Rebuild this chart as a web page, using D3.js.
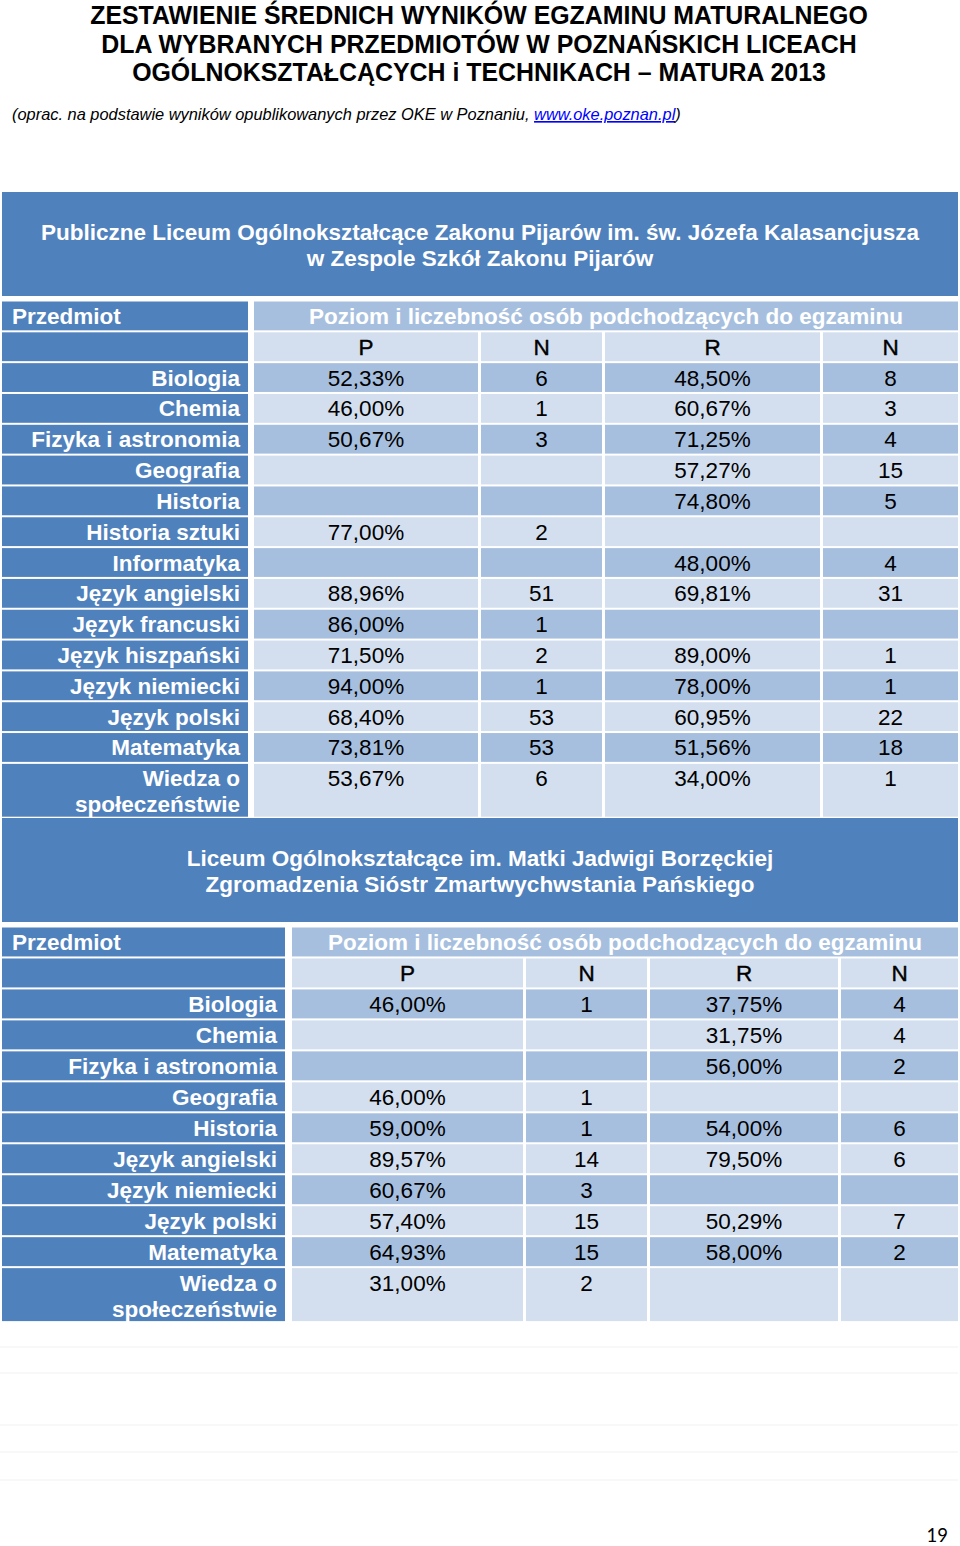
<!DOCTYPE html>
<html>
<head>
<meta charset="utf-8">
<script src="https://cdn.jsdelivr.net/npm/d3@7"></script>
<style>
  body { margin: 0; background: #fff; }
  svg { display: block; }
</style>
</head>
<body>
<div id="page"></div>
<script>
const titleLines = [
	"ZESTAWIENIE ŚREDNICH WYNIKÓW EGZAMINU MATURALNEGO",
	"DLA WYBRANYCH PRZEDMIOTÓW W POZNAŃSKICH LICEACH",
	"OGÓLNOKSZTAŁCĄCYCH i TECHNIKACH – MATURA 2013"
];
const sourceText = "(oprac. na podstawie wyników opublikowanych przez OKE w Poznaniu, ";
const sourceLink = "www.oke.poznan.pl";
const columnHeaders = ["P", "N", "R", "N"];
const groupHeader = "Poziom i liczebność osób podchodzących do egzaminu";
const firstColumnHeader = "Przedmiot";

const school1Name = ["Publiczne Liceum Ogólnokształcące Zakonu Pijarów im. św. Józefa Kalasancjusza", "w Zespole Szkół Zakonu Pijarów"];
const school1Subjects = ["Biologia", "Chemia", "Fizyka i astronomia", "Geografia", "Historia", "Historia sztuki", "Informatyka",
	"Język angielski", "Język francuski", "Język hiszpański", "Język niemiecki", "Język polski", "Matematyka", "Wiedza o|społeczeństwie"];
const school1BasicScore = ["52,33%", "46,00%", "50,67%", "", "", "77,00%", "", "88,96%", "86,00%", "71,50%", "94,00%", "68,40%", "73,81%", "53,67%"];
const school1BasicCount = ["6", "1", "3", "", "", "2", "", "51", "1", "2", "1", "53", "53", "6"];
const school1ExtScore = ["48,50%", "60,67%", "71,25%", "57,27%", "74,80%", "", "48,00%", "69,81%", "", "89,00%", "78,00%", "60,95%", "51,56%", "34,00%"];
const school1ExtCount = ["8", "3", "4", "15", "5", "", "4", "31", "", "1", "1", "22", "18", "1"];

const school2Name = ["Liceum Ogólnokształcące im. Matki Jadwigi Borzęckiej", "Zgromadzenia Sióstr Zmartwychwstania Pańskiego"];
const school2Subjects = ["Biologia", "Chemia", "Fizyka i astronomia", "Geografia", "Historia", "Język angielski", "Język niemiecki",
	"Język polski", "Matematyka", "Wiedza o|społeczeństwie"];
const school2BasicScore = ["46,00%", "", "", "46,00%", "59,00%", "89,57%", "60,67%", "57,40%", "64,93%", "31,00%"];
const school2BasicCount = ["1", "", "", "1", "1", "14", "3", "15", "15", "2"];
const school2ExtScore = ["37,75%", "31,75%", "56,00%", "", "54,00%", "79,50%", "", "50,29%", "58,00%", ""];
const school2ExtCount = ["4", "4", "2", "", "6", "6", "", "7", "2", ""];

const pageNumber = "19";

// Layout and style
const W = 960, H = 1546;
const blue = "#4f81bd", mid = "#a7bfde", light = "#d3dfee";
const font = "'Liberation Sans', Arial, sans-serif";
const cellSize = 22.5;

const svg = d3.select("#page").append("svg")
	.attr("width", W)
	.attr("height", H)
	.style("font-family", font);

// Title block
svg.append("g").selectAll("text")
	.data(titleLines)
	.enter().append("text")
	.attr("x", 479)
	.attr("y", (d, i) => 24 + i * 28.7)
	.attr("text-anchor", "middle")
	.style("font-size", "24.9px")
	.style("font-weight", "bold")
	.text(d => d);

let src = svg.append("text")
	.attr("x", 12)
	.attr("y", 120)
	.style("font-size", "16.4px")
	.style("font-style", "italic");
src.append("tspan").text(sourceText);
src.append("tspan").attr("fill", "#0000ff").attr("text-decoration", "underline").text(sourceLink);
src.append("tspan").text(")");

// Draws one school table: band with name, header rows, then subject rows
function drawTable(opts) {
	let g = svg.append("g");
	let rowKeys = ["head", "sub"].concat(opts.subjects);

	let y = d3.scaleBand()
		.domain(rowKeys)
		.range([opts.top, opts.top + rowKeys.length * opts.pitch])
		.paddingInner(0.065);

	// column edges: [label, P, N, R, N]
	let cols = opts.cols;
	let x = d3.scaleOrdinal().domain(d3.range(cols.length)).range(cols);

	// name band
	g.append("rect")
		.attr("x", 2).attr("y", opts.bandTop)
		.attr("width", 956).attr("height", opts.bandBottom - opts.bandTop)
		.attr("fill", blue);
	g.append("g").selectAll("text")
		.data(opts.name)
		.enter().append("text")
		.attr("x", 480)
		.attr("y", (d, i) => (opts.bandTop + opts.bandBottom) / 2 - 4 + i * 26)
		.attr("text-anchor", "middle")
		.attr("fill", "#fff")
		.style("font-size", cellSize + "px")
		.style("font-weight", "bold")
		.text(d => d);

	let rowHeight = key => y.bandwidth() + (key.indexOf("|") >= 0 ? 24 : 0);

	// label column
	g.append("g").selectAll("rect")
		.data(rowKeys)
		.enter().append("rect")
		.attr("x", d => x(0)[0])
		.attr("y", d => y(d))
		.attr("width", d => x(0)[1] - x(0)[0])
		.attr("height", rowHeight)
		.attr("fill", blue);

	g.append("text")
		.attr("x", 12)
		.attr("y", y("head") + y.bandwidth() / 2 + 8)
		.attr("fill", "#fff")
		.style("font-size", cellSize + "px")
		.style("font-weight", "bold")
		.text(firstColumnHeader);

	g.append("g").selectAll("text")
		.data(opts.subjects)
		.enter().append("text")
		.attr("x", x(0)[1] - 8)
		.attr("y", d => y(d) + y.bandwidth() / 2 + 8)
		.attr("text-anchor", "end")
		.attr("fill", "#fff")
		.style("font-size", cellSize + "px")
		.style("font-weight", "bold")
		.selectAll("tspan")
		.data(d => d.split("|"))
		.enter().append("tspan")
		.attr("x", x(0)[1] - 8)
		.attr("dy", (d, i) => i == 0 ? 0 : 26)
		.text(d => d);

	// group header spanning all data columns
	g.append("rect")
		.attr("x", x(1)[0]).attr("y", y("head"))
		.attr("width", x(4)[1] - x(1)[0]).attr("height", y.bandwidth())
		.attr("fill", mid);
	g.append("text")
		.attr("x", (x(1)[0] + x(4)[1]) / 2)
		.attr("y", y("head") + y.bandwidth() / 2 + 8)
		.attr("text-anchor", "middle")
		.attr("fill", "#fff")
		.style("font-size", cellSize + "px")
		.style("font-weight", "bold")
		.text(groupHeader);

	// data cells, one entry per row and column
	let series = [opts.basicScore, opts.basicCount, opts.extScore, opts.extCount];
	let cells = [];
	columnHeaders.forEach((h, c) => cells.push({ key: "sub", col: c + 1, text: h, fill: light, head: true }));
	opts.subjects.forEach((s, r) => {
		series.forEach((vals, c) => {
			cells.push({ key: s, col: c + 1, text: vals[r], fill: r % 2 == 0 ? mid : light });
		});
	});

	g.append("g").selectAll("rect")
		.data(cells)
		.enter().append("rect")
		.attr("x", d => x(d.col)[0])
		.attr("y", d => y(d.key))
		.attr("width", d => x(d.col)[1] - x(d.col)[0])
		.attr("height", d => rowHeight(d.key))
		.attr("fill", d => d.fill);

	g.append("g").selectAll("text")
		.data(cells.filter(d => d.text))
		.enter().append("text")
		.attr("x", d => (x(d.col)[0] + x(d.col)[1]) / 2)
		.attr("y", d => y(d.key) + y.bandwidth() / 2 + 8)
		.attr("text-anchor", "middle")
		.attr("fill", "#000")
		.style("font-size", cellSize + "px")
		.style("stroke", d => d.head ? "#000" : null)
		.style("stroke-width", d => d.head ? 0.4 : null)
		.text(d => d.text);
}

drawTable({
	name: school1Name, subjects: school1Subjects,
	basicScore: school1BasicScore, basicCount: school1BasicCount,
	extScore: school1ExtScore, extCount: school1ExtCount,
	bandTop: 192, bandBottom: 296, top: 301.5, pitch: 30.7,
	cols: [[2, 248], [254, 478], [481, 602], [605, 820], [823, 958]]
});

drawTable({
	name: school2Name, subjects: school2Subjects,
	basicScore: school2BasicScore, basicCount: school2BasicCount,
	extScore: school2ExtScore, extCount: school2ExtCount,
	bandTop: 818, bandBottom: 922, top: 927.5, pitch: 30.8,
	cols: [[2, 285], [292, 523], [526, 647], [650, 838], [841, 958]]
});

// faint empty ruled lines below the second table
svg.append("g").selectAll("line")
	.data([1347, 1373, 1425, 1452, 1480])
	.enter().append("line")
	.attr("x1", 0).attr("x2", 958)
	.attr("y1", d => d).attr("y2", d => d)
	.attr("stroke", "#edf1f4")
	.attr("stroke-width", 1.2);

svg.append("text")
	.attr("x", 948)
	.attr("y", 1542)
	.attr("text-anchor", "end")
	.style("font-family", "Lato, sans-serif")
	.style("font-size", "18.5px")
	.text(pageNumber);
</script>
</body>
</html>
